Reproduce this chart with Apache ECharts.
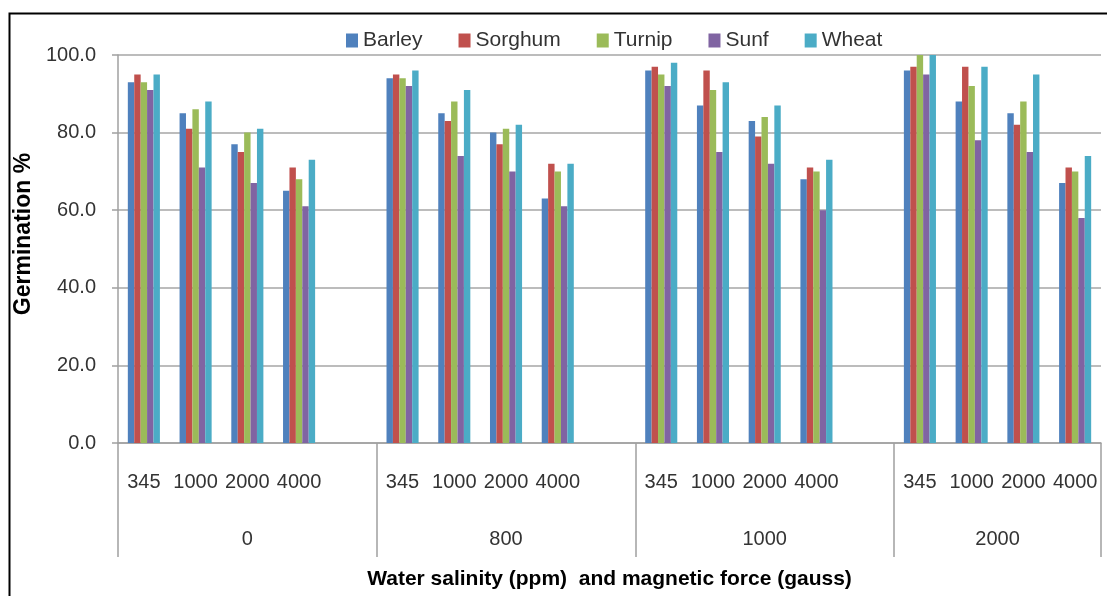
<!DOCTYPE html>
<html>
<head>
<meta charset="utf-8">
<script src="https://cdn.jsdelivr.net/npm/echarts@6/dist/echarts.min.js"></script>
<style>
html,body{margin:0;padding:0;background:#fff;}
#chart{width:1107px;height:596px;}
</style>
</head>
<body>
<div id="chart"></div>
<script>
// ---- data ----
const salinity = ['345', '1000', '2000', '4000'];          // Water salinity (ppm)
const magnetic = ['0', '800', '1000', '2000'];             // magnetic force (gauss)
const seriesNames = ['Barley', 'Sorghum', 'Turnip', 'Sunf', 'Wheat'];
// values ordered: magnetic 0 (345,1000,2000,4000), 800 (...), 1000 (...), 2000 (...)
const barley  = [93, 85, 77, 65,   94, 85, 80, 63,   96, 87, 83, 68,   96, 88, 85, 67];
const sorghum = [95, 81, 75, 71,   95, 83, 77, 72,   97, 96, 79, 71,   97, 97, 82, 71];
const turnip  = [93, 86, 80, 68,   94, 88, 81, 70,   95, 91, 84, 70,  100, 92, 88, 70];
const sunf    = [91, 71, 67, 61,   92, 74, 70, 61,   92, 75, 72, 60,   95, 78, 75, 58];
const wheat   = [95, 88, 81, 73,   96, 91, 82, 72,   98, 93, 87, 73,  100, 97, 95, 74];
const yTicks = [0, 20, 40, 60, 80, 100];
const colors = ['#4F81BD', '#C0504D', '#9BBB59', '#8064A2', '#4BACC6'];

// build slot layout: each magnetic group has its salinity levels followed by one empty slot (except the last)
const slots = [];
const slotIndex = [];
magnetic.forEach((m, gi) => {
  salinity.forEach((s) => { slotIndex.push(slots.length); slots.push(s); });
  if (gi < magnetic.length - 1) slots.push('');
});
const nSlots = slots.length;
// group centers in half-slot units
const groupCenterLabel = {};
let start = 0;
magnetic.forEach((m, gi) => {
  const n = salinity.length + (gi < magnetic.length - 1 ? 1 : 0);
  groupCenterLabel[2 * start + n] = m;
  start += n;
});

function toSlots(arr) {
  const out = new Array(nSlots).fill('-');
  arr.forEach((v, i) => { out[slotIndex[i]] = v; });
  return out;
}
const allValues = [barley, sorghum, turnip, sunf, wheat];

const FONT = '"Liberation Sans", Arial, sans-serif';
const chart = echarts.init(document.getElementById('chart'), null, {renderer: 'canvas'});
chart.setOption({
  backgroundColor: '#fff',
  animation: false,
  color: colors,
  graphic: [{
    type: 'rect', left: 7, top: 11, z: -1,
    shape: {width: 1110, height: 600},
    style: {fill: 'none', stroke: '#000', lineWidth: 2}
  }],
  legend: {
    top: 25, left: 341,
    itemWidth: 12, itemHeight: 14, itemGap: 36,
    icon: 'rect',
    textStyle: {fontFamily: FONT, fontSize: 21, color: '#333'},
    data: seriesNames
  },
  grid: {left: 118, top: 55, width: 983, height: 388, containLabel: false},
  xAxis: [
    {
      type: 'category', data: slots, position: 'bottom',
      boundaryGap: true,
      axisLine: {show: true, lineStyle: {color: '#A0A0A0', width: 1.5}},
      axisTick: {show: false},
      axisLabel: {interval: 0, margin: 29, fontFamily: FONT, fontSize: 20, color: '#333'},
      splitLine: {show: false}
    },
    {
      type: 'value', min: 0, max: nSlots, interval: 5, position: 'bottom',
      axisLine: {show: false},
      axisTick: {show: true, inside: false, length: 114, lineStyle: {color: '#A0A0A0', width: 1.5}},
      axisLabel: {show: false},
      splitLine: {show: false}
    },
    {
      type: 'value', min: 0, max: 2 * nSlots, interval: 1, position: 'bottom',
      axisLine: {show: false},
      axisTick: {show: false},
      axisLabel: {
        show: true, margin: 86, fontFamily: FONT, fontSize: 20, color: '#333',
        showMinLabel: true, showMaxLabel: true,
        formatter: (v) => groupCenterLabel[v] !== undefined ? groupCenterLabel[v] : ''
      },
      splitLine: {show: false},
      name: 'Water salinity (ppm)  and magnetic force (gauss)',
      nameLocation: 'middle', nameGap: 126,
      nameTextStyle: {fontFamily: FONT, fontSize: 21, fontWeight: 'bold', color: '#000'}
    }
  ],
  yAxis: {
    type: 'value', min: yTicks[0], max: yTicks[yTicks.length - 1], interval: yTicks[1] - yTicks[0],
    axisLine: {show: true, lineStyle: {color: '#A0A0A0', width: 1.5}},
    axisTick: {show: true, inside: false, length: 6, lineStyle: {color: '#A0A0A0', width: 1.5}},
    axisLabel: {margin: 22, fontFamily: FONT, fontSize: 20, color: '#333', formatter: (v) => v.toFixed(1)},
    splitLine: {show: true, lineStyle: {color: '#A6A6A6', width: 1.5}},
    name: 'Germination %', nameLocation: 'middle', nameGap: 68, nameRotate: 90,
    nameTextStyle: {fontFamily: FONT, fontSize: 23, fontWeight: 'bold', color: '#000', padding: [0, 0, 0, 30]}
  },
  series: seriesNames.map((name, i) => ({
    name, type: 'bar', xAxisIndex: 0,
    barGap: '0%', barCategoryGap: '38%',
    data: toSlots(allValues[i]),
    itemStyle: {color: colors[i]}
  }))
});
</script>
</body>
</html>
